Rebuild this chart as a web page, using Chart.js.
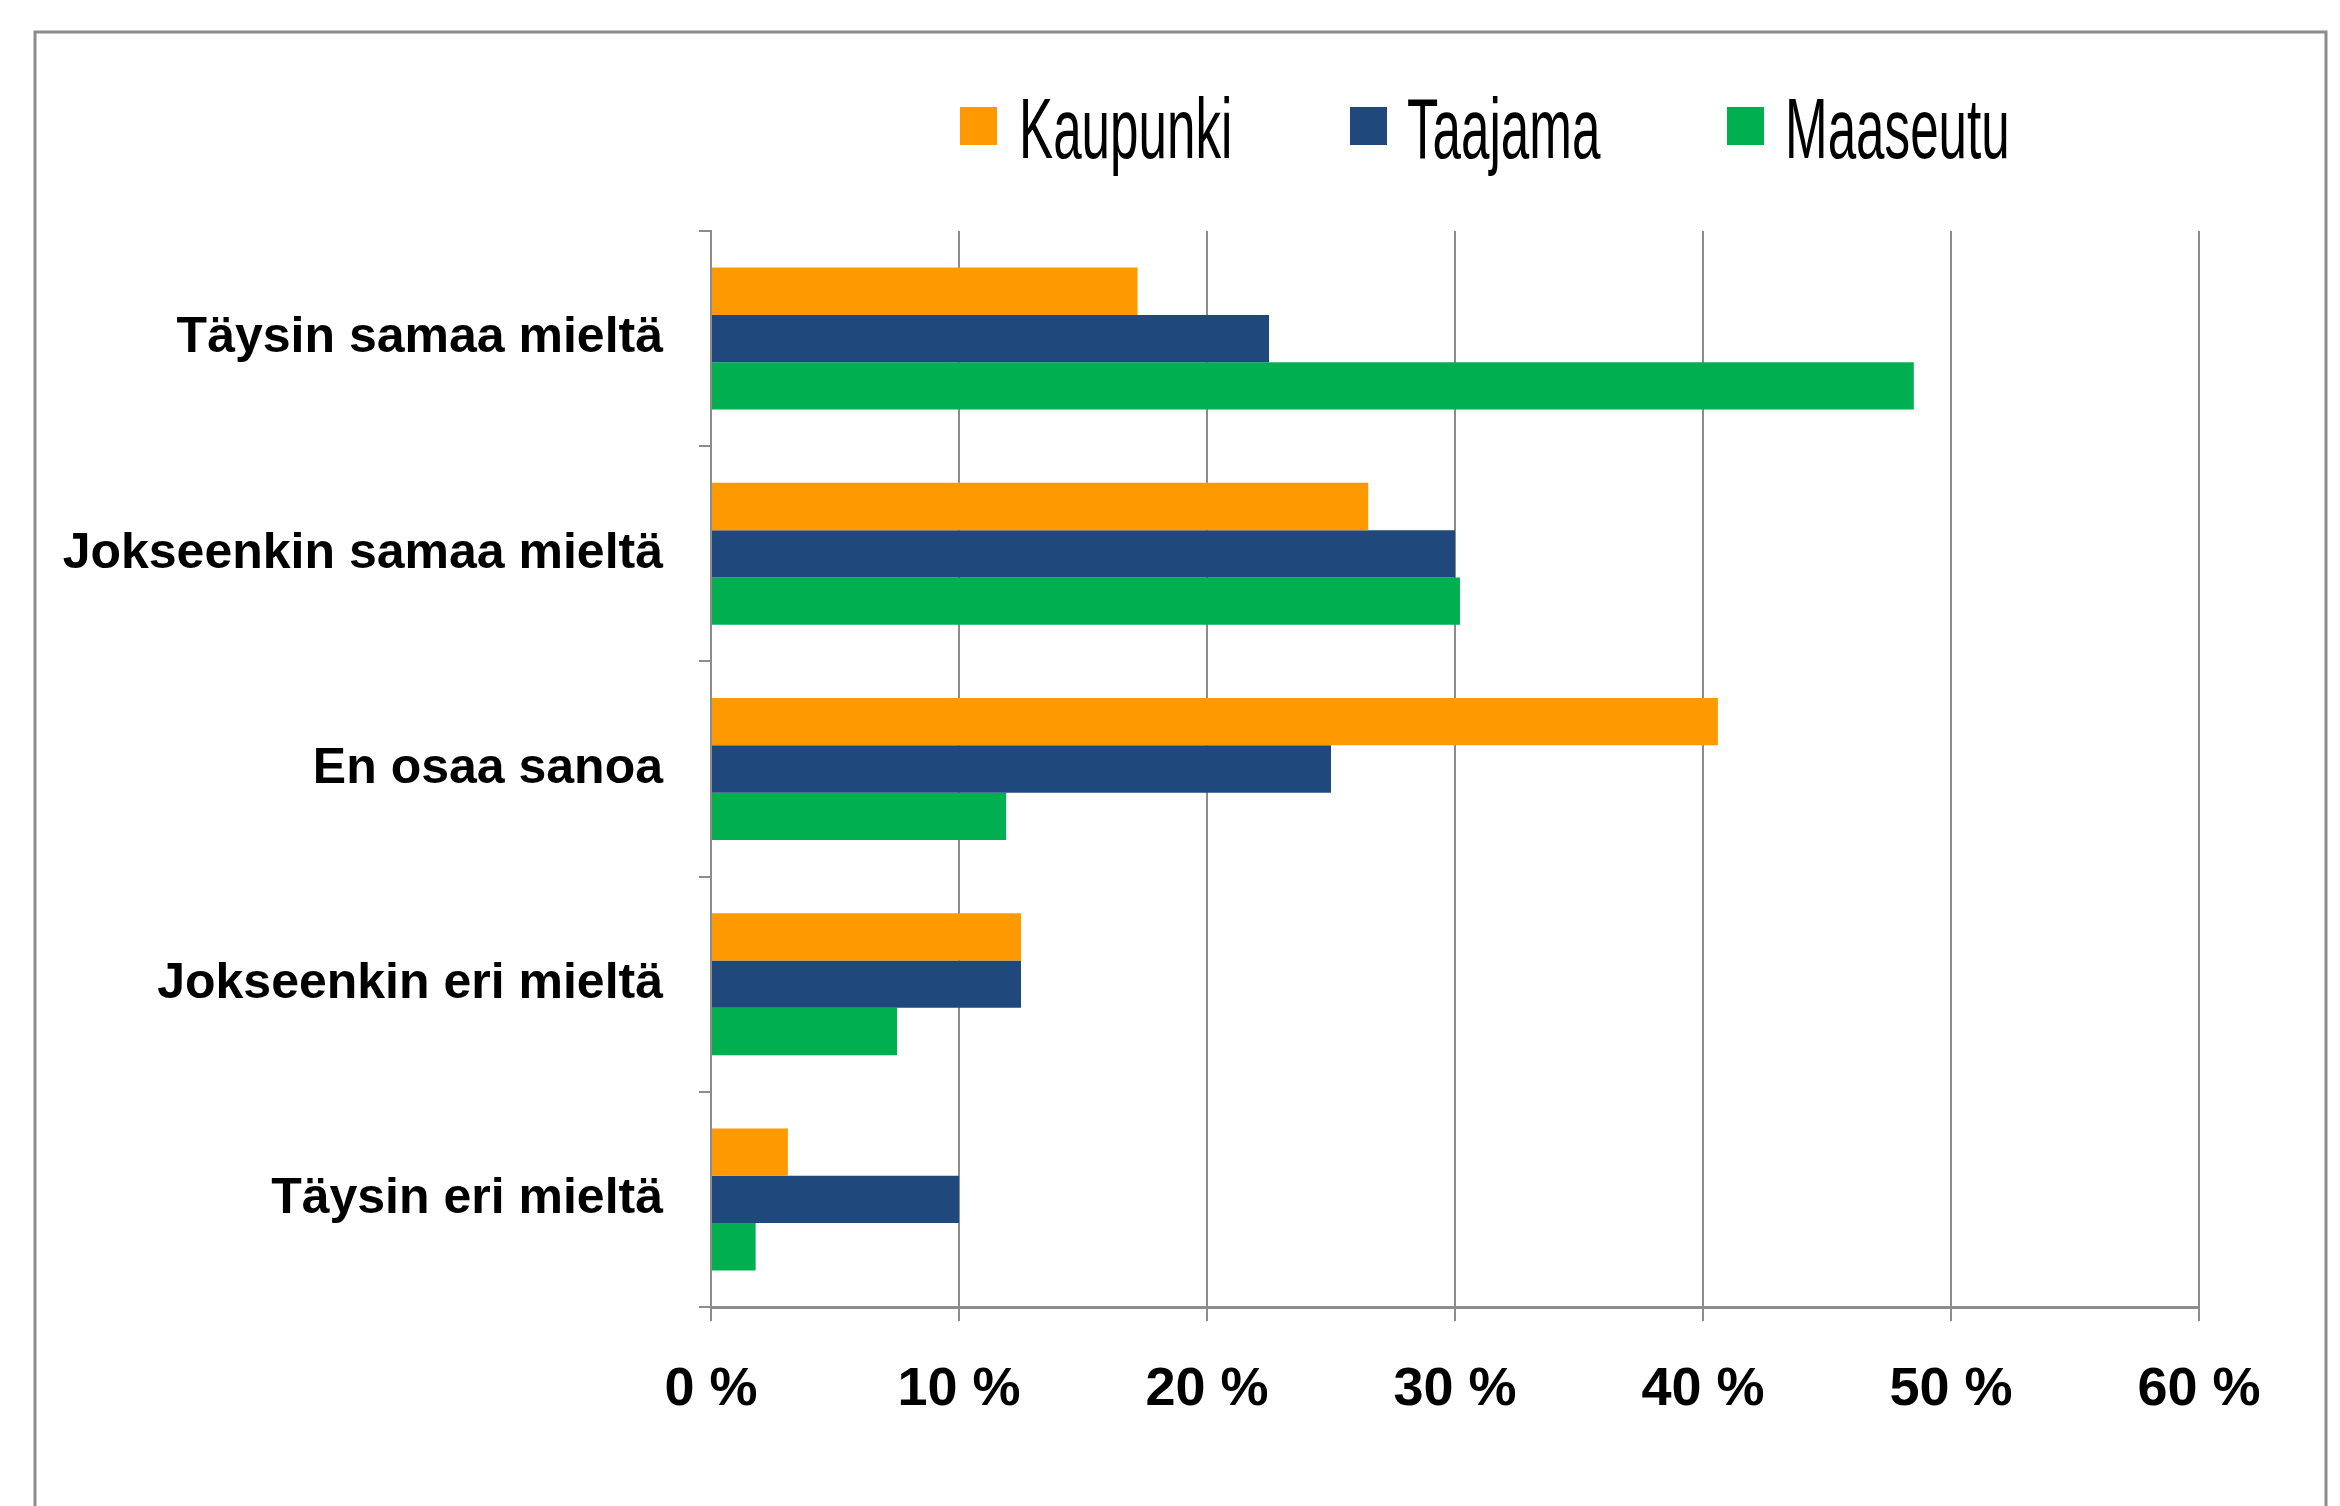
<!DOCTYPE html>
<html>
<head>
<meta charset="utf-8">
<script src="https://cdn.jsdelivr.net/npm/chart.js@4"></script>
<style>
  html, body { margin: 0; padding: 0; background: #fff; }
  #wrap { width: 2340px; height: 1506px; }
</style>
</head>
<body>
<div id="wrap"><canvas id="chart" width="2340" height="1506"></canvas></div>
<script>
const categories = [
  'Täysin samaa mieltä',
  'Jokseenkin samaa mieltä',
  'En osaa sanoa',
  'Jokseenkin eri mieltä',
  'Täysin eri mieltä'
];
const kaupunki = [17.2, 26.5, 40.6, 12.5, 3.1];
const taajama  = [22.5, 30.0, 25.0, 12.5, 10.0];
const maaseutu = [48.5, 30.2, 11.9, 7.5, 1.8];
const seriesNames = ['Kaupunki', 'Taajama', 'Maaseutu'];
const seriesColors = ['#ff9900', '#1f497d', '#00b050'];

// legend drawn by hand: narrow display face squeezed horizontally
const legendItems = [
  { box: 960, text: 1019 },
  { box: 1350, text: 1407 },
  { box: 1727, text: 1785 }
];

const customLegend = {
  id: 'customLegend',
  beforeDraw(chart) {
    const ctx = chart.ctx;
    ctx.save();
    ctx.fillStyle = '#fff';
    ctx.fillRect(0, 0, chart.width, chart.height);
    // outer frame
    ctx.strokeStyle = '#8c8c8c';
    ctx.lineWidth = 3;
    ctx.strokeRect(35, 32, 2291, 1520);
    ctx.restore();
  },
  afterDraw(chart) {
    const ctx = chart.ctx;
    ctx.save();
    chart.data.datasets.forEach((ds, i) => {
      const it = legendItems[i];
      ctx.fillStyle = ds.backgroundColor;
      ctx.fillRect(it.box, 107, 37, 38);
      ctx.save();
      ctx.translate(it.text, 158);
      ctx.scale(0.595, 1);
      ctx.fillStyle = '#000';
      ctx.font = '86px "Liberation Sans", Arial, sans-serif';
      ctx.textBaseline = 'alphabetic';
      ctx.fillText(ds.label, 0, 0);
      ctx.restore();
    });
    ctx.restore();
  }
};

const ctx = document.getElementById('chart').getContext('2d');
const chart = new Chart(ctx, {
  type: 'bar',
  data: {
    labels: categories,
    datasets: [
      { label: seriesNames[0], data: kaupunki, backgroundColor: seriesColors[0] },
      { label: seriesNames[1], data: taajama,  backgroundColor: seriesColors[1] },
      { label: seriesNames[2], data: maaseutu, backgroundColor: seriesColors[2] }
    ]
  },
  options: {
    indexAxis: 'y',
    responsive: false,
    animation: false,
    categoryPercentage: 0.66,
    barPercentage: 1.0,
    layout: { padding: { left: 0, right: 141, top: 231, bottom: 0 } },
    plugins: {
      legend: { display: false },
      tooltip: { enabled: false }
    },
    scales: {
      x: {
        min: 0,
        max: 60,
        ticks: {
          stepSize: 10,
          color: '#000',
          padding: 37,
          font: { family: '"Liberation Sans Narrow", "Arial Narrow", sans-serif', size: 54, weight: 'bold' },
          callback: v => v + ' %'
        },
        grid: { color: '#8c8c8c', lineWidth: 2, tickLength: 14 },
        border: { color: '#8c8c8c', width: 3 },
        afterFit: s => { s.height = 199; }
      },
      y: {
        ticks: {
          color: '#000',
          padding: 36,
          font: { family: '"Liberation Sans", Arial, sans-serif', size: 50, weight: 'bold' }
        },
        grid: { drawOnChartArea: false, color: '#8c8c8c', lineWidth: 2, tickLength: 12, offset: true },
        border: { color: '#8c8c8c', width: 2 },
        afterFit: s => { s.width = 711; }
      }
    }
  },
  plugins: [customLegend]
});
</script>
</body>
</html>
